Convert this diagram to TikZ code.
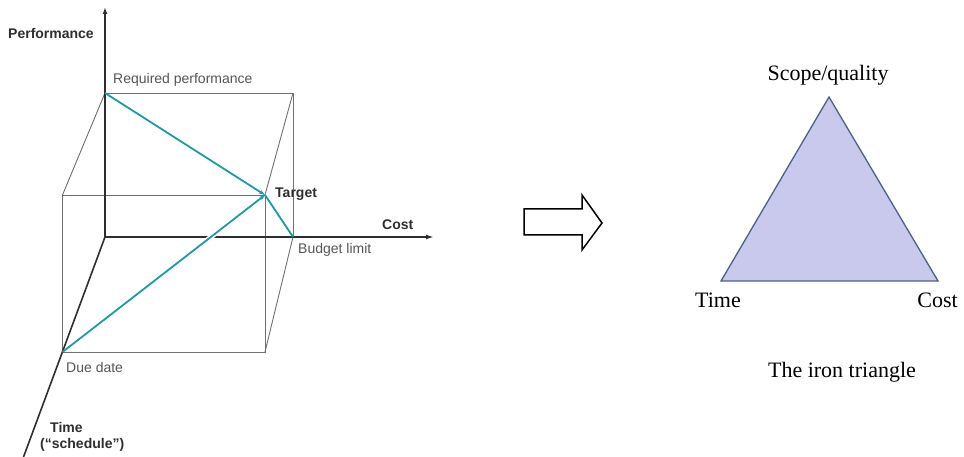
\documentclass[tikz,border=0pt]{standalone}
\usepackage{fontspec}
\setmainfont{Liberation Serif}
\newfontfamily\lsans{Liberation Sans}
\usetikzlibrary{arrows.meta}
\definecolor{teal1}{HTML}{1E9AA6}
\definecolor{cubegray}{HTML}{707070}
\definecolor{axisdark}{HTML}{2E2E2E}
\definecolor{lblgray}{HTML}{555555}
\definecolor{trifill}{HTML}{C9C9EE}
\definecolor{triedge}{HTML}{4A6283}
\begin{document}
\begin{tikzpicture}[x=1pt,y=-1pt,
  cube/.style={draw=cubegray,line width=0.9pt},
  axisline/.style={draw=axisdark,line width=2pt},
  tealline/.style={draw=teal1,line width=1.8pt},
  tealarrow/.style={tealline,-{Stealth[length=6pt,width=4pt]}},
  lbl/.style={font=\lsans\fontsize{14}{16}\selectfont,text=lblgray,inner sep=0pt},
  blbl/.style={font=\lsans\bfseries\fontsize{14}{16}\selectfont,text=axisdark,inner sep=0pt},
  slbl/.style={font=\fontsize{22}{26}\selectfont,text=black,inner sep=0pt},
  hollow/.style={draw=black,line width=1.5pt,fill=white,line join=miter}
]
\useasboundingbox (0,0) rectangle (964,457);
% key points
\coordinate (O) at (105,237);
\coordinate (P) at (105,93);
\coordinate (PB) at (293,93);
\coordinate (B) at (293,237);
\coordinate (FTL) at (62.5,195);
\coordinate (T) at (265,195);
\coordinate (FBR) at (265,352);
\coordinate (D) at (62.5,352);
\coordinate (Ptop) at (105,7);
\coordinate (Cend) at (434,237);
\coordinate (Tend) at (23.5,457);
\coordinate (g1) at (199.4,246);
\coordinate (g2) at (222.5,228);
% cube
\draw[cube] (P) -- (PB) -- (B);
\draw[cube] (FTL) -- (T) -- (FBR) -- (D) -- cycle;
\draw[cube] (P) -- (FTL);
\draw[cube] (PB) -- (T);
\draw[cube] (B) -- (FBR);
% axes
\draw[axisline,-{Latex[length=7pt,width=5pt]}] (O) -- (Ptop);
\draw[axisline,line width=2.4pt,-{Latex[length=8pt,width=5pt]}] (O) -- (Cend);
\draw[axisline,line width=1.6pt] (O) -- (Tend);
% teal lines
\draw[white,line width=5pt] (g1) -- (g2);
\draw[tealarrow] (P) -- (T);
\draw[tealarrow] (D) -- (T);
\draw[tealline] (T) -- (B);
% labels
\node[blbl,anchor=west] (lperf) at (8,33) {Performance};
\node[lbl,anchor=west] (lreq) at (113,80) {Required performance};
\node[blbl,anchor=west] (ltarget) at (275,194) {Target};
\node[blbl,anchor=west] (lcost) at (382,225) {Cost};
\node[lbl,anchor=west] (lbudget) at (298,250) {Budget limit};
\node[lbl,anchor=west] (ldue) at (66,367) {Due date};
\node[blbl,anchor=west] (ltime) at (50,427) {Time};
\node[blbl,anchor=west] (lsched) at (40,445) {(“schedule”)};
% hollow arrow
\draw[hollow] (524,209) -- (582,209) -- (582,195) -- (602,223) -- (582,250) -- (582,235) -- (524,235) -- cycle;
% iron triangle
\coordinate (SQ) at (829,97);
\coordinate (TT) at (721,281);
\coordinate (TC) at (938,281);
\draw[fill=trifill,draw=triedge,line width=1.3pt,line join=miter] (SQ) -- (TT) -- (TC) -- cycle;
\node[slbl] (lsq) at (828,75) {Scope/quality};
\node[slbl,anchor=west] (ltt) at (695,300) {Time};
\node[slbl,anchor=east] (ltc) at (958,300) {Cost};
\node[slbl] (liron) at (842,372) {The iron triangle};
\end{tikzpicture}
\end{document}
